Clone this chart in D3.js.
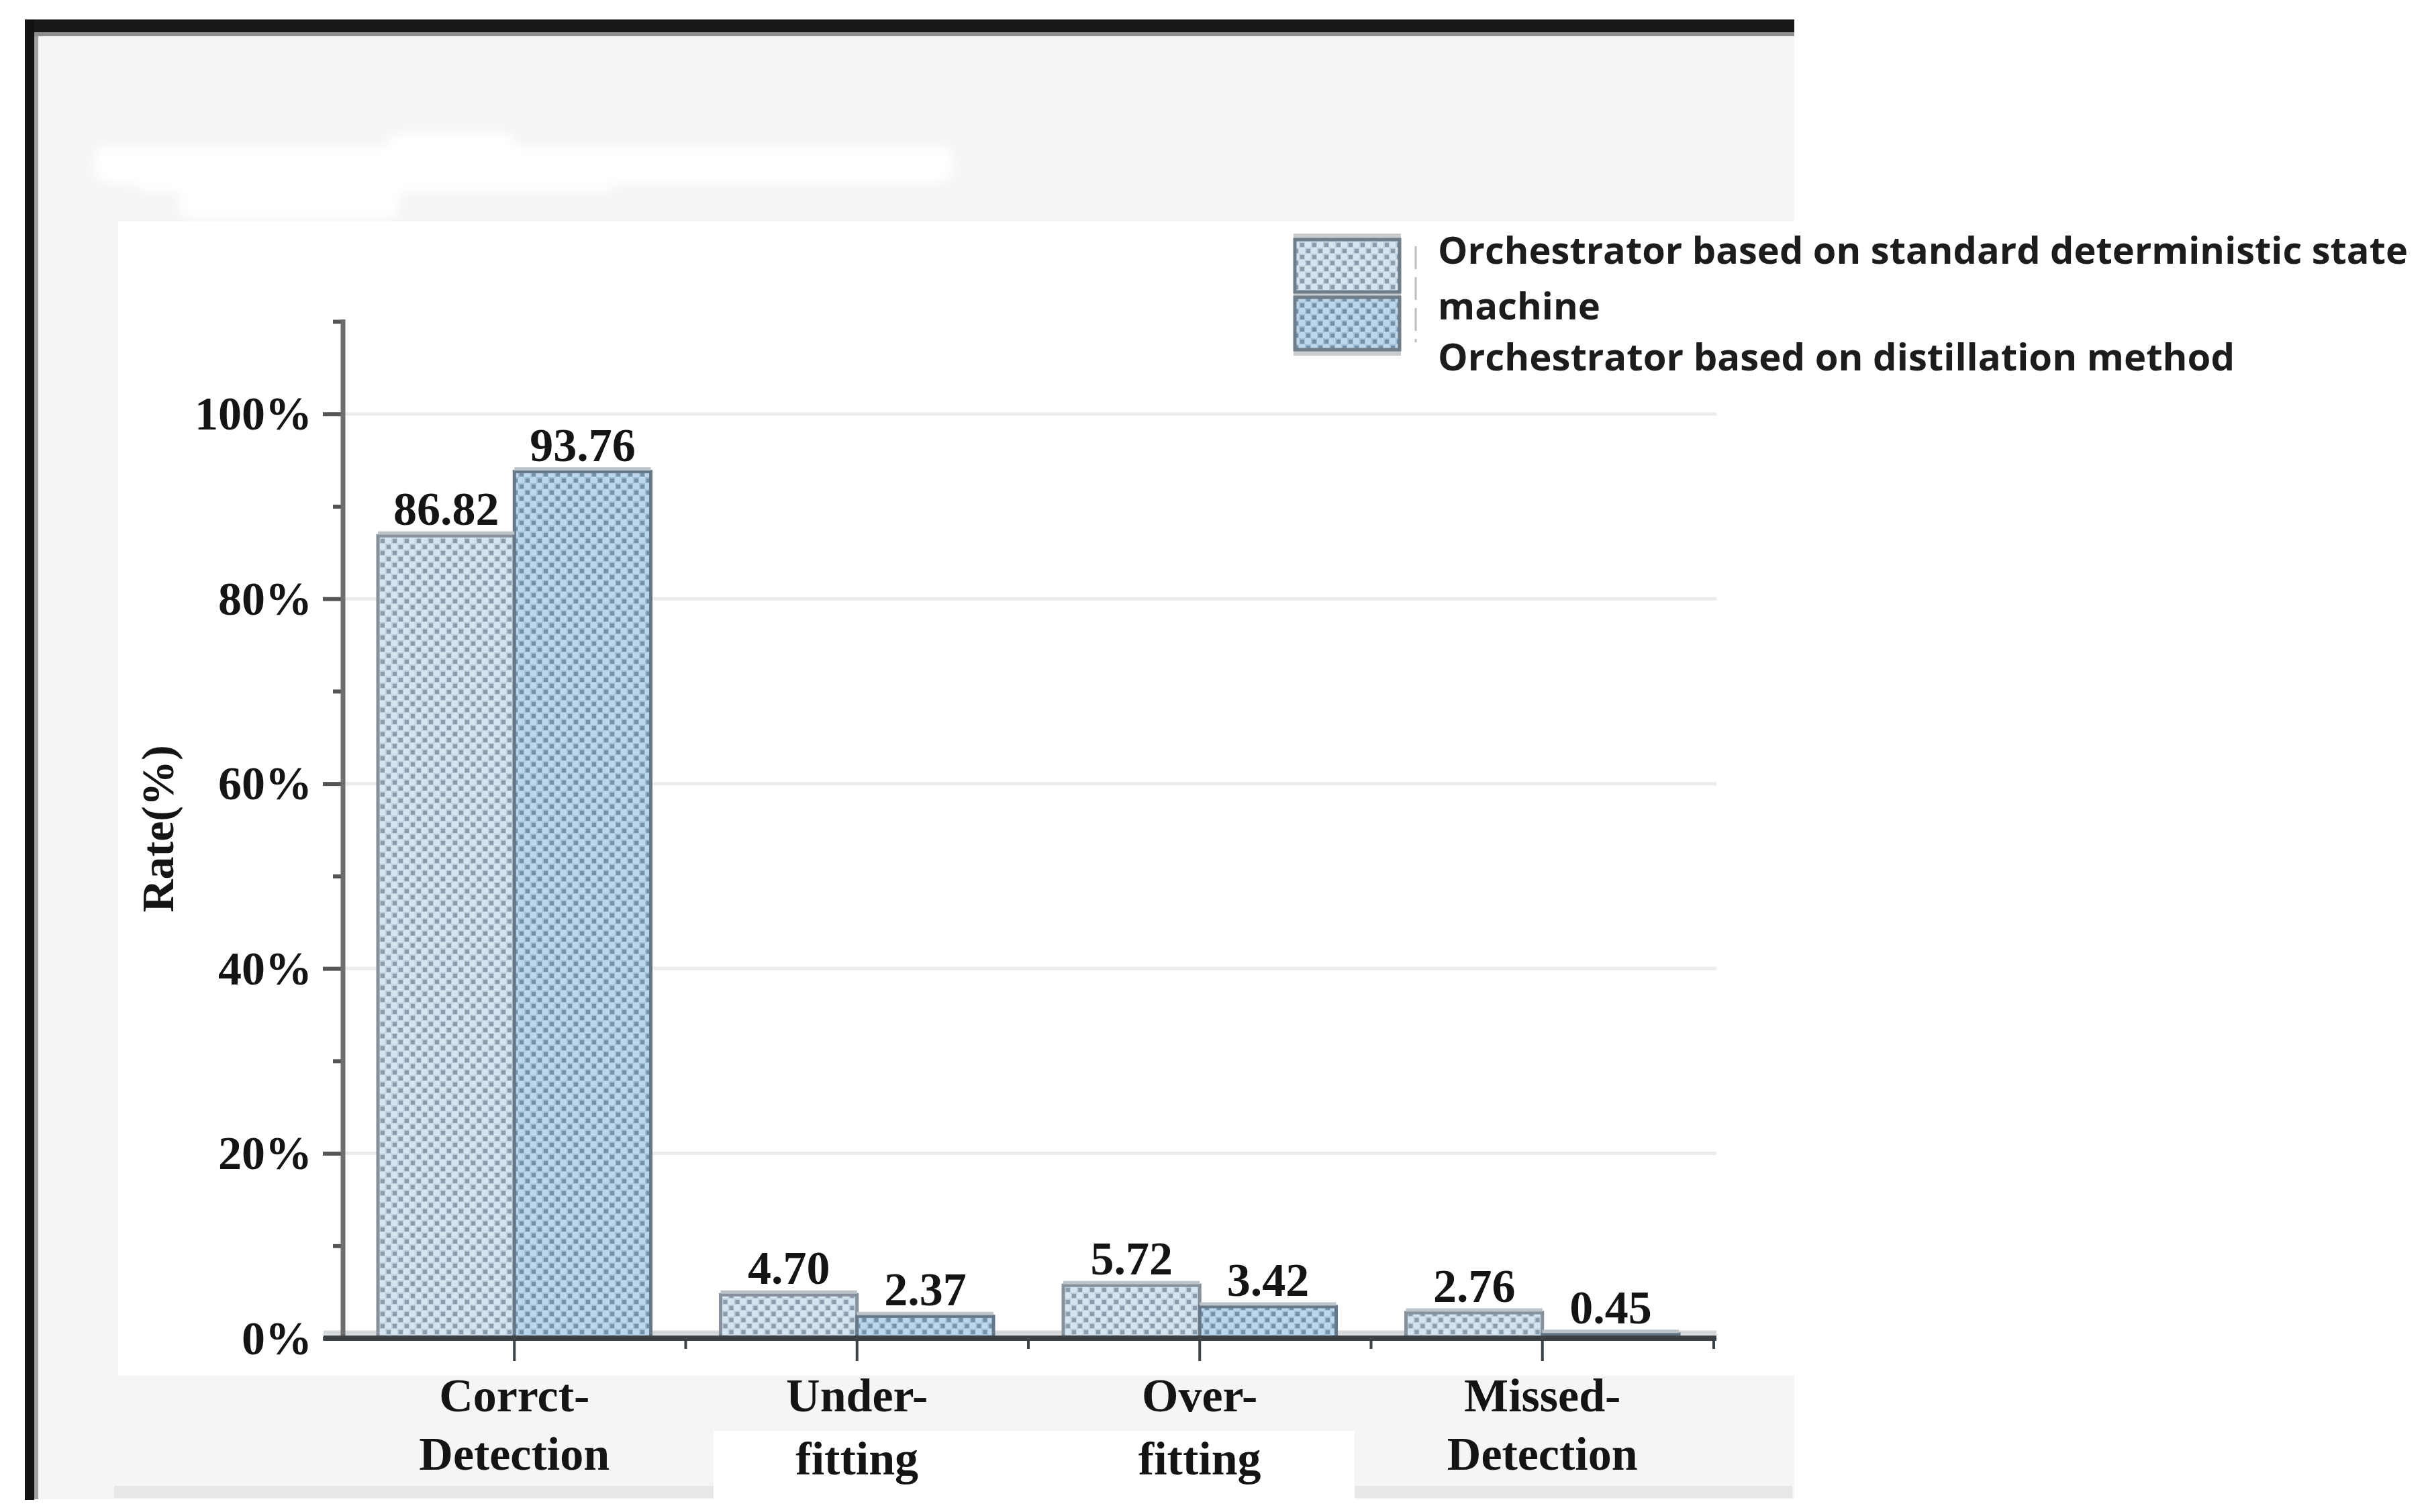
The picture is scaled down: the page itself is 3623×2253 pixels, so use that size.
<!DOCTYPE html>
<html>
<head>
<meta charset="utf-8">
<script src="https://cdn.jsdelivr.net/npm/d3@7"></script>
<style>
  body { margin: 0; background: #ffffff; }
  .serif { font-family: "Liberation Serif", "Times New Roman", serif; font-weight: bold; fill: #141414; }
  .legendText { font-family: "Open Sans", "Noto Sans", sans-serif; font-weight: 700; fill: #1c1c1c; }
</style>
</head>
<body>
<div class="chartDiv"></div>
<script>
// chart data
var categories = ["Corrct-Detection", "Under-fitting", "Over-fitting", "Missed-Detection"];
var categoryLines = [["Corrct-", "Detection"], ["Under-", "fitting"], ["Over-", "fitting"], ["Missed-", "Detection"]];
var seriesKeys = ["standard", "distillation"];
var standardValues = [86.82, 4.70, 5.72, 2.76];
var distillationValues = [93.76, 2.37, 3.42, 0.45];
var majorTicks = [0, 20, 40, 60, 80, 100];
var minorTicks = [10, 30, 50, 70, 90, 110];
var legendLines = ["Orchestrator based on standard deterministic state", "machine", "Orchestrator based on distillation method"];

var width = 3623, height = 2253;

var svg = d3.select('.chartDiv').append('svg')
    .attr('width', width)
    .attr('height', height);

// ---- screenshot frame / backgrounds ----
var defs = svg.append('defs');

defs.append('filter').attr('id', 'soft')
  .append('feGaussianBlur').attr('stdDeviation', 8);

var patternColors = {
  standard: { base: '#bccddb', light: '#d6e4ef', dark: '#8a9cab' },
  distillation: { base: '#a2c0d8', light: '#bcd6eb', dark: '#7591a8' }
};
seriesKeys.forEach(function(k){
  var c = patternColors[k];
  var p = defs.append('pattern')
    .attr('id', 'pat-' + k)
    .attr('patternUnits', 'userSpaceOnUse')
    .attr('width', 18).attr('height', 18);
  p.append('rect').attr('width', 18).attr('height', 18).attr('fill', c.base);
  p.append('rect').attr('x', 0).attr('y', 0).attr('width', 9).attr('height', 9).attr('fill', c.light);
  p.append('rect').attr('x', 9).attr('y', 9).attr('width', 9).attr('height', 9).attr('fill', c.light);
  p.append('rect').attr('x', 11).attr('y', 2).attr('width', 6).attr('height', 6).attr('fill', c.dark);
  p.append('rect').attr('x', 2).attr('y', 11).attr('width', 6).attr('height', 6).attr('fill', c.dark);
});

var bg = svg.append('g').attr('class', 'frame');
bg.append('rect').attr('x', 51).attr('y', 54).attr('width', 2622).attr('height', 2180).attr('fill', '#f4f5f5');
bg.append('rect').attr('x', 170).attr('y', 2214).attr('width', 2500).attr('height', 18).attr('fill', '#e6e8e9');
bg.append('rect').attr('x', 176).attr('y', 330).attr('width', 2497).attr('height', 1720).attr('fill', '#ffffff');
bg.append('rect').attr('x', 1063).attr('y', 2132).attr('width', 955).attr('height', 121).attr('fill', '#ffffff');
bg.append('rect').attr('x', 37).attr('y', 29).attr('width', 2636).attr('height', 19).attr('fill', '#181818');
bg.append('rect').attr('x', 51).attr('y', 48).attr('width', 2622).attr('height', 6).attr('fill', '#8e8e8e');
bg.append('rect').attr('x', 37).attr('y', 29).attr('width', 14).attr('height', 2206).attr('fill', '#111111');
bg.append('rect').attr('x', 51).attr('y', 54).attr('width', 6).attr('height', 2180).attr('fill', '#a0a0a0');

// blurred-out title
var blob = bg.append('g').attr('filter', 'url(#soft)').attr('fill', '#ffffff');
blob.append('rect').attr('x', 139).attr('y', 217).attr('width', 1282).attr('height', 56).attr('rx', 24);
blob.append('rect').attr('x', 578).attr('y', 198).attr('width', 190).attr('height', 40).attr('rx', 18);
blob.append('rect').attr('x', 200).attr('y', 245).attr('width', 716).attr('height', 42).attr('rx', 20);
blob.append('rect').attr('x', 266).attr('y', 270).attr('width', 330).attr('height', 55).attr('rx', 20);

// ---- chart ----
var y = d3.scaleLinear().domain([0, 110]).range([1994, 479]);
var x = d3.scaleBand().domain(categories).range([511, 2553]);
var xSub = d3.scaleBand().domain(seriesKeys).range([52, x.bandwidth() - 52]);

var g = svg.append('g').attr('class', 'main-g');

// gridlines
g.selectAll('.grid')
  .data(majorTicks.filter(function(d){ return d > 0; }))
  .enter().append('line')
    .attr('class', 'grid')
    .attr('x1', 511).attr('x2', 2557)
    .attr('y1', function(d){ return y(d); })
    .attr('y2', function(d){ return y(d); })
    .attr('stroke', '#ececec')
    .attr('stroke-width', 5);

// light band over the x axis
g.append('line')
  .attr('x1', 482).attr('x2', 2557)
  .attr('y1', y(0) - 8).attr('y2', y(0) - 8)
  .attr('stroke', '#d6d8da').attr('stroke-width', 7);

var rows = categories.map(function(c, i){
  return { category: c, standard: standardValues[i], distillation: distillationValues[i] };
});

var group = g.selectAll('.group')
  .data(rows)
  .enter().append('g')
    .attr('class', 'group')
    .attr('transform', function(d){ return 'translate(' + x(d.category) + ',0)'; });

var bars = group.selectAll('.bar')
  .data(function(d){ return seriesKeys.map(function(k){ return { key: k, value: d[k] }; }); })
  .enter();

bars.append('rect')
  .attr('class', 'bar')
  .attr('x', function(d){ return xSub(d.key); })
  .attr('y', function(d){ return y(d.value); })
  .attr('width', xSub.bandwidth())
  .attr('height', function(d){ return y(0) - y(d.value); })
  .attr('fill', function(d){ return 'url(#pat-' + d.key + ')'; })
  .attr('stroke', function(d){ return d.key == 'standard' ? '#86919b' : '#667888'; })
  .attr('stroke-width', 5);

// lighter rim on the top of each bar
bars.append('line')
  .attr('x1', function(d){ return xSub(d.key); })
  .attr('x2', function(d){ return xSub(d.key) + xSub.bandwidth(); })
  .attr('y1', function(d){ return y(d.value) - 4; })
  .attr('y2', function(d){ return y(d.value) - 4; })
  .attr('stroke', '#bcc3c9').attr('stroke-width', 5);

bars.append('text')
  .attr('class', 'serif')
  .attr('x', function(d){ return xSub(d.key) + xSub.bandwidth() / 2; })
  .attr('y', function(d){ return y(d.value) - 16; })
  .attr('text-anchor', 'middle')
  .style('font-size', '70px')
  .text(function(d){ return d3.format('.2f')(d.value); });

// y axis (major + minor ticks)
var yAxis = g.append('g')
  .attr('transform', 'translate(511,0)')
  .call(d3.axisLeft(y).tickValues(majorTicks).tickSize(30).tickPadding(16)
    .tickFormat(function(d){ return d + '%'; }));
yAxis.select('.domain').remove();
yAxis.selectAll('.tick line').attr('stroke', '#555').attr('stroke-width', 6);
yAxis.selectAll('.tick text')
  .attr('class', 'serif')
  .attr('fill', '#141414')
  .style('font-size', '70px')
  .attr('dy', '0.33em');

var yMinor = g.append('g')
  .attr('transform', 'translate(511,0)')
  .call(d3.axisLeft(y).tickValues(minorTicks).tickSize(15).tickFormat(''));
yMinor.select('.domain').remove();
yMinor.selectAll('.tick line').attr('stroke', '#555').attr('stroke-width', 6);

g.append('line')
  .attr('x1', 511).attr('x2', 511)
  .attr('y1', y(110) - 3).attr('y2', y(0))
  .attr('stroke', '#6e6e6e').attr('stroke-width', 7);

// x axis
var xAxis = g.append('g')
  .attr('transform', 'translate(0,' + y(0) + ')')
  .call(d3.axisBottom(x).tickSize(34).tickFormat(''));
xAxis.select('.domain').remove();
xAxis.selectAll('.tick line').attr('stroke', '#3d4247').attr('stroke-width', 4);

g.selectAll('.xminor')
  .data(categories)
  .enter().append('line')
    .attr('class', 'xminor')
    .attr('x1', function(d){ return x(d) + x.bandwidth(); })
    .attr('x2', function(d){ return x(d) + x.bandwidth(); })
    .attr('y1', y(0)).attr('y2', y(0) + 16)
    .attr('stroke', '#3d4247').attr('stroke-width', 4);

g.append('line')
  .attr('x1', 482).attr('x2', 2557)
  .attr('y1', y(0)).attr('y2', y(0))
  .attr('stroke', '#3b4045').attr('stroke-width', 8);

// category labels
var catLabel = g.selectAll('.catLabel')
  .data(categories)
  .enter().append('text')
    .attr('class', 'serif catLabel')
    .attr('text-anchor', 'middle')
    .style('font-size', '70px');
catLabel.append('tspan')
  .attr('x', function(d){ return x(d) + x.bandwidth() / 2; })
  .attr('y', 2103)
  .text(function(d, i){ return categoryLines[i][0]; });
catLabel.append('tspan')
  .attr('x', function(d){ return x(d) + x.bandwidth() / 2; })
  .attr('y', function(d, i){ return categoryLines[i][1] == 'fitting' ? 2197 : 2190; })
  .text(function(d, i){ return categoryLines[i][1]; });

// y axis title
g.append('text')
  .attr('class', 'serif')
  .attr('transform', 'translate(258,1235) rotate(-90)')
  .attr('text-anchor', 'middle')
  .style('font-size', '68px')
  .text('Rate(%)');

// ---- legend ----
var legend = svg.append('g').attr('class', 'legend');
legend.append('rect').attr('x', 1927).attr('y', 348).attr('width', 160).attr('height', 182).attr('fill', '#c9cccf');
legend.selectAll('.swatch')
  .data(seriesKeys)
  .enter().append('rect')
    .attr('class', 'swatch')
    .attr('x', 1929)
    .attr('y', function(d, i){ return 357 + i * 86; })
    .attr('width', 156).attr('height', 78)
    .attr('fill', function(d){ return 'url(#pat-' + d + ')'; })
    .attr('stroke', '#6f7d88').attr('stroke-width', 5);

legend.append('line')
  .attr('x1', 2109).attr('x2', 2109).attr('y1', 367).attr('y2', 510)
  .attr('stroke', '#bdbdbd').attr('stroke-width', 3)
  .attr('stroke-dasharray', '34,12');

var legendWidths = [1445, 242, 1187];
legend.selectAll('.legendText')
  .data(legendLines)
  .enter().append('text')
    .attr('class', 'legendText')
    .attr('x', 2142)
    .attr('y', function(d, i){ return [393, 476, 552][i]; })
    .style('font-size', '56px')
    .attr('textLength', function(d, i){ return legendWidths[i]; })
    .attr('lengthAdjust', 'spacingAndGlyphs')
    .text(function(d){ return d; });
</script>
</body>
</html>
